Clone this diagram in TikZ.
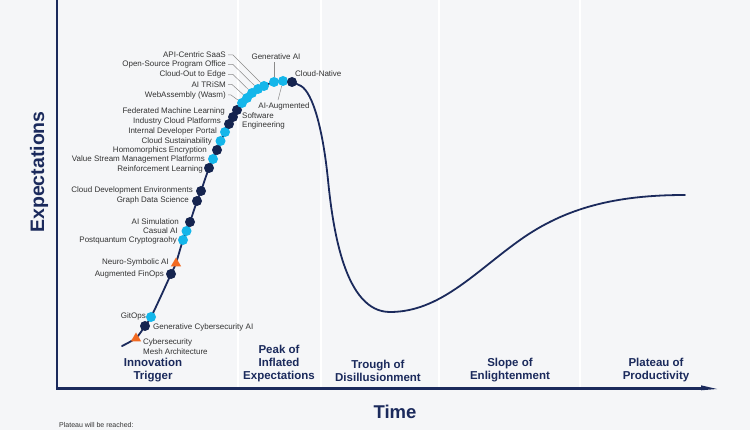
\documentclass[tikz,border=0pt]{standalone}
\usepackage{fontspec}
\setmainfont{Liberation Sans}
\usetikzlibrary{shapes.geometric}
\definecolor{bg}{HTML}{F5F6F8}
\definecolor{navy}{HTML}{1B2A5C}
\definecolor{dotdark}{HTML}{15244F}
\definecolor{dotlight}{HTML}{14B6EA}
\definecolor{orng}{HTML}{F26A22}
\definecolor{lbl}{HTML}{333333}
\definecolor{lead}{HTML}{8A8A8A}
\tikzset{
  dk/.style={circle, fill=dotdark, inner sep=0pt, minimum size=10pt},
  lt/.style={circle, fill=dotlight, inner sep=0pt, minimum size=10pt},
  tri/.style={regular polygon, regular polygon sides=3, fill=orng, inner sep=0pt, minimum size=12pt},
  lab/.style={font=\fontsize{8}{9.5}\selectfont, text=lbl, inner sep=0pt},
  labE/.style={lab, anchor=east},
  labW/.style={lab, anchor=west, align=left},
  phase/.style={font=\bfseries\fontsize{11.5}{13}\selectfont, text=navy, align=center, inner sep=0pt},
  leader/.style={draw=lead, line width=0.5pt},
  sep/.style={draw=white, line width=2pt},
  axisline/.style={draw=navy, line width=2.5pt},
  hype/.style={draw=navy, line width=1.8pt, line cap=round}
}
\begin{document}
\begin{tikzpicture}[x=1pt,y=-1pt]
\useasboundingbox (0,0) rectangle (750,430);
\fill[bg] (0,0) rectangle (750,430);
% separators
\foreach \sx in {238,321,439,580} \draw[sep] (\sx,0) -- (\sx,387);
% axes
\coordinate (ytop) at (57,0);
\coordinate (orig) at (57,388.5);
\coordinate (xend) at (706,388.5);
\coordinate (xtip) at (717,389);
\draw[axisline] (ytop) -- (orig) -- (xend);
\fill[navy] (701,385.3) -- (xtip) -- (701,390.3) -- cycle;
% curve
\draw[hype] plot[smooth, tension=0.5] coordinates {
(122,346) (136,338) (145,326) (151,317) (161,296) (171,274) (176,263)
(183,240) (190,222) (197,201) (201,191) (209,168) (217,150) (225,132)
(233,117) (242,103) (252,93) (264,86) (274,82) (283,81) (292,82) (301,86)}
 .. controls (313,93) and (323,130) .. (328,180)
 .. controls (333,230) and (345,312) .. (390,312)
 .. controls (440,312) and (475,272) .. (520,240)
 .. controls (565,208) and (615,195) .. (685,195);
% dots
\node[tri] (csmad) at (136,338.5) {};
\node[dk] (gcaid) at (145,326) {};
\node[lt] (gitopsd) at (151,317) {};
\node[dk] (afind) at (171,274) {};
\node[tri] (nsaid) at (176,263.5) {};
\node[lt] (pqcd) at (183,240) {};
\node[lt] (casaid) at (186.5,231) {};
\node[dk] (aisimd) at (190,222) {};
\node[dk] (gdsd) at (197,201) {};
\node[dk] (cded) at (201,191) {};
\node[dk] (rld) at (209,168) {};
\node[lt] (vsmpd) at (213,159) {};
\node[dk] (hed) at (217,150) {};
\node[lt] (csd) at (220.5,141) {};
\node[lt] (idpd) at (225,132) {};
\node[dk] (icpd) at (229,124) {};
\node[dk] (fmld) at (233,117) {};
\node[dk] (sed) at (237,110) {};
\node[lt] (wasmd) at (242,103) {};
\node[lt] (trismd) at (247,98) {};
\node[lt] (coed) at (252,93) {};
\node[lt] (ospod) at (258,89) {};
\node[lt] (apid) at (264,86) {};
\node[lt] (genaid) at (274,82) {};
\node[lt] (aiaugd) at (283,81) {};
\node[dk] (cnd) at (292,82) {};
% labels
\node[labE] (api) at (226,55) {API-Centric SaaS};
\node[labE] (ospo) at (226,64.5) {Open-Source Program Office};
\node[labE] (coe) at (226,74.5) {Cloud-Out to Edge};
\node[labE] (trism) at (226,84.5) {AI TRiSM};
\node[labE] (wasm) at (226,95) {WebAssembly (Wasm)};
\node[labE] (fml) at (225,111) {Federated Machine Learning};
\node[labE] (icp) at (221,121) {Industry Cloud Platforms};
\node[labE] (idp) at (217,131) {Internal Developer Portal};
\node[labE] (cs) at (212,141) {Cloud Sustainability};
\node[labE] (he) at (207,150) {Homomorphics Encryption};
\node[labE] (vsmp) at (205,159.5) {Value Stream Management Platforms};
\node[labE] (rl) at (203,169) {Reinforcement Learning};
\node[labE] (cde) at (193,190) {Cloud Development Environments};
\node[labE] (gds) at (189,200) {Graph Data Science};
\node[labE] (aisim) at (179,222) {AI Simulation};
\node[labE] (casai) at (178,231) {Casual AI};
\node[labE] (pqc) at (177,240) {Postquantum Cryptograohy};
\node[labE] (nsai) at (169,262) {Neuro-Symbolic AI};
\node[labE] (afin) at (164,274) {Augmented FinOps};
\node[labE] (gitops) at (146,316) {GitOps};
\node[labW] (gcai) at (153,327) {Generative Cybersecurity AI};
\node[labW] (csma) at (143,346.5) {Cybersecurity\\Mesh Architecture};
\node[labW] (se) at (242,121) {Software\\Engineering};
\node[lab] (genai) at (276,57) {Generative AI};
\node[lab] (aiaug) at (284,106) {AI-Augmented};
\node[labW] (cn) at (295,74) {Cloud-Native};
% leaders
\draw[leader] (228,55) -- (233,55) -- (apid);
\draw[leader] (228,64.5) -- (233,64.5) -- (ospod);
\draw[leader] (228,74.5) -- (233,74.5) -- (coed);
\draw[leader] (228,84.5) -- (232,84.5) -- (trismd);
\draw[leader] (228,95) -- (231,95) -- (wasmd);
\draw[leader] (genai.south) ++(-2,2) -- (genaid);
\draw[leader] (aiaug.north) ++(-6,-2) -- (aiaugd);
% phases
\node[phase] (ph1) at (153,370.5) {Innovation\\Trigger};
\node[phase] (ph2) at (279,364) {Peak of\\Inflated\\Expectations};
\node[phase] (ph3) at (378,370.5) {Trough of\\Disillusionment};
\node[phase] (ph4) at (510,370.5) {Slope of\\Enlightenment};
\node[phase] (ph5) at (656,370.5) {Plateau of\\Productivity};
% axis titles
\node[font=\bfseries\fontsize{18.5}{20}\selectfont, text=navy, inner sep=0pt] (time) at (395,412) {Time};
\node[font=\bfseries\fontsize{19.5}{21}\selectfont, text=navy, inner sep=0pt, rotate=90] (expect) at (39,172) {Expectations};
\node[font=\fontsize{7}{8}\selectfont, text=lbl, anchor=west, inner sep=0pt] (plat) at (59,425) {Plateau will be reached:};
\end{tikzpicture}
\end{document}
